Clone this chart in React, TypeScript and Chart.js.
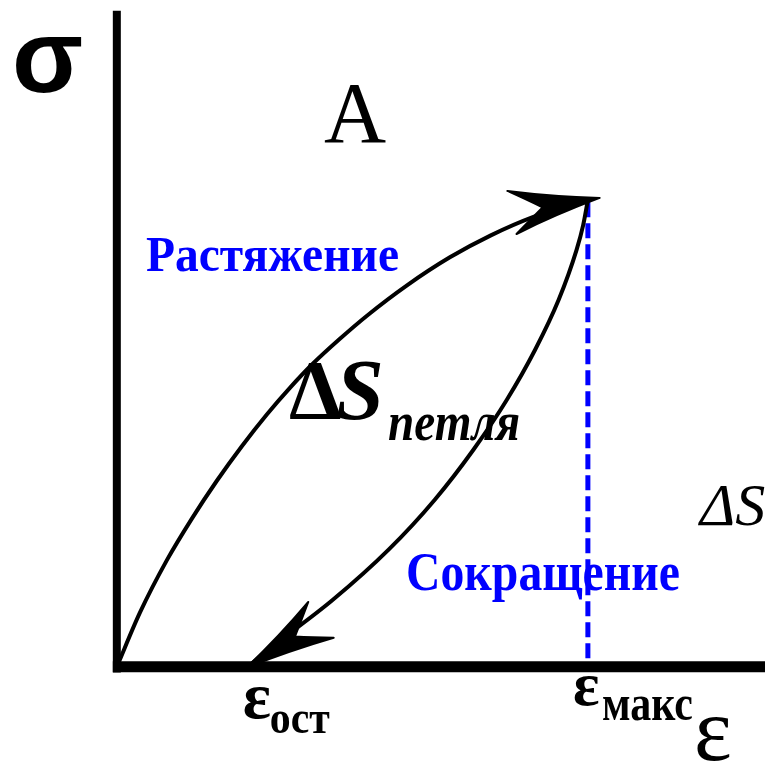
import { useEffect, useRef } from "react";
import { Chart, registerables } from "chart.js";

Chart.register(...registerables);

// Strain ε (in units of ε_макс) and stress σ (in units of σ at ε_макс)
const loadingStrain = [0, 0.049, 0.106, 0.159, 0.212, 0.265, 0.318, 0.367, 0.416, 0.473, 0.531, 0.616, 0.707, 0.794, 0.883, 1.0];
const loadingStress = [0, 0.116, 0.228, 0.317, 0.398, 0.472, 0.54, 0.597, 0.649, 0.702, 0.752, 0.817, 0.877, 0.924, 0.963, 1.0];
const unloadingStrain = [1.0, 0.99, 0.976, 0.938, 0.888, 0.828, 0.757, 0.675, 0.577, 0.458, 0.321, 0.278];
const unloadingStress = [1.0, 0.946, 0.893, 0.786, 0.679, 0.572, 0.465, 0.358, 0.251, 0.143, 0.036, 0.0];

const strainMax = 1.0;
const stressAtMax = 1.0;
const residualStrain = 0.278;

// Visible window and axis extents
const strainRange = [-0.248, 1.376];
const stressRange = [-0.223, 1.428];
const stressAxisTop = 1.405;
const strainAxisEnd = 1.4;

const BLUE = "#0000ff";
const SERIF = '"Liberation Serif", "Times New Roman", serif';
const SANS = '"Liberation Sans", Arial, sans-serif';

const pts = (xs: number[], ys: number[]) => xs.map((x, i) => ({ x, y: ys[i] }));

// Barbed arrowheads at the ends of the two branches of the loop
const arrowPlugin = {
  id: "loopArrows",
  afterDatasetsDraw(chart: any) {
    const ctx: CanvasRenderingContext2D = chart.ctx;
    const heads = [
      { index: 2, tipOffset: 12, turn: 8 },
      { index: 3, tipOffset: 2, turn: 7 },
    ];
    ctx.save();
    for (const h of heads) {
      const data = chart.getDatasetMeta(h.index).data;
      const end = data[data.length - 1];
      const back = data[data.length - 2];
      const ang = Math.atan2(end.y - back.y, end.x - back.x) + (h.turn * Math.PI) / 180;
      const tx = end.x + Math.cos(ang) * h.tipOffset;
      const ty = end.y + Math.sin(ang) * h.tipOffset;
      ctx.save();
      ctx.translate(tx, ty);
      ctx.rotate(ang);
      const L = 90;
      const W = 22;
      const N = 58;
      ctx.beginPath();
      ctx.moveTo(0, 0);
      ctx.quadraticCurveTo(-46, -9, -L, -W);
      ctx.quadraticCurveTo(-72, -10, -N, 0);
      ctx.quadraticCurveTo(-72, 10, -L + 2, W);
      ctx.quadraticCurveTo(-46, 9, 0, 0);
      ctx.closePath();
      ctx.fillStyle = "#000";
      ctx.fill();
      ctx.lineWidth = 2;
      ctx.lineJoin = "round";
      ctx.strokeStyle = "#000";
      ctx.stroke();
      ctx.restore();
    }
    ctx.restore();
  },
};

// Axis names, branch names and point labels
const labelPlugin = {
  id: "loopLabels",
  afterDatasetsDraw(chart: any) {
    const ctx: CanvasRenderingContext2D = chart.ctx;
    const xs = chart.scales.x;
    const put = (text: string, px: number, py: number, font: string, color = "#000", maxWidth?: number) => {
      ctx.font = font;
      ctx.fillStyle = color;
      ctx.textAlign = "left";
      ctx.textBaseline = "alphabetic";
      if (maxWidth) ctx.fillText(text, px, py, maxWidth);
      else ctx.fillText(text, px, py);
    };
    ctx.save();
    put("σ", 12, 92, `bold 104px ${SANS}`);
    put("A", 324, 142, `86px ${SERIF}`);
    put("Растяжение", 146, 271, `bold 50px ${SERIF}`, BLUE, 253);
    put("Сокращение", 406, 590, `bold 54px ${SERIF}`, BLUE, 274);

    put("Δ", 289, 419, `bold 84px ${SERIF}`);
    put("S", 336, 419, `italic bold 86px ${SERIF}`);
    put("петля", 388, 440, `italic bold 54px ${SERIF}`, "#000", 132);

    put("ΔS", 700, 525, `italic 60px ${SERIF}`);

    const xRes = xs.getPixelForValue(residualStrain);
    put("ε", xRes - 5, 718, `bold 66px ${SERIF}`);
    put("ост", xRes + 22, 733, `bold 46px ${SERIF}`, "#000", 60);

    const xMax = xs.getPixelForValue(strainMax);
    put("ε", xMax - 15, 705, `bold 62px ${SERIF}`);
    put("макс", xMax + 14, 720, `bold 50px ${SERIF}`, "#000", 91);

    put("ε", 694, 760, `90px ${SERIF}`);
    ctx.restore();
  },
};

export default function App() {
  const canvasRef = useRef<HTMLCanvasElement | null>(null);

  useEffect(() => {
    if (!canvasRef.current) return;
    const chart = new Chart(canvasRef.current, {
      type: "scatter",
      data: {
        datasets: [
          {
            // σ axis
            data: [
              { x: 0, y: stressAxisTop },
              { x: 0, y: -0.012 },
            ],
            showLine: true,
            borderColor: "#000",
            borderWidth: 8,
            pointRadius: 0,
            borderCapStyle: "butt",
          },
          {
            // ε axis
            data: [
              { x: -0.0085, y: 0 },
              { x: strainAxisEnd, y: 0 },
            ],
            showLine: true,
            borderColor: "#000",
            borderWidth: 11,
            pointRadius: 0,
            borderCapStyle: "butt",
          },
          {
            label: "Растяжение",
            data: pts(loadingStrain, loadingStress),
            showLine: true,
            borderColor: "#000",
            borderWidth: 4,
            pointRadius: 0,
            cubicInterpolationMode: "monotone",
          },
          {
            label: "Сокращение",
            data: pts(unloadingStrain, unloadingStress),
            showLine: true,
            borderColor: "#000",
            borderWidth: 4,
            pointRadius: 0,
            cubicInterpolationMode: "monotone",
          },
          {
            // ε_макс marker
            data: [
              { x: strainMax, y: stressAtMax - 0.005 },
              { x: strainMax, y: 0 },
            ],
            showLine: true,
            borderColor: BLUE,
            borderWidth: 5,
            borderDash: [15, 6],
            pointRadius: 0,
            borderCapStyle: "butt",
          },
        ],
      },
      options: {
        animation: false,
        responsive: false,
        maintainAspectRatio: false,
        devicePixelRatio: 1,
        layout: { padding: 0 },
        plugins: {
          legend: { display: false },
          tooltip: { enabled: false },
        },
        scales: {
          x: { type: "linear", display: false, min: strainRange[0], max: strainRange[1] },
          y: { type: "linear", display: false, min: stressRange[0], max: stressRange[1] },
        },
      },
      plugins: [arrowPlugin, labelPlugin],
    });
    return () => chart.destroy();
  }, []);

  return (
    <div style={{ position: "fixed", left: 0, top: 0, width: 765, height: 771, background: "#fff" }}>
      <canvas ref={canvasRef} width={765} height={771} />
    </div>
  );
}
